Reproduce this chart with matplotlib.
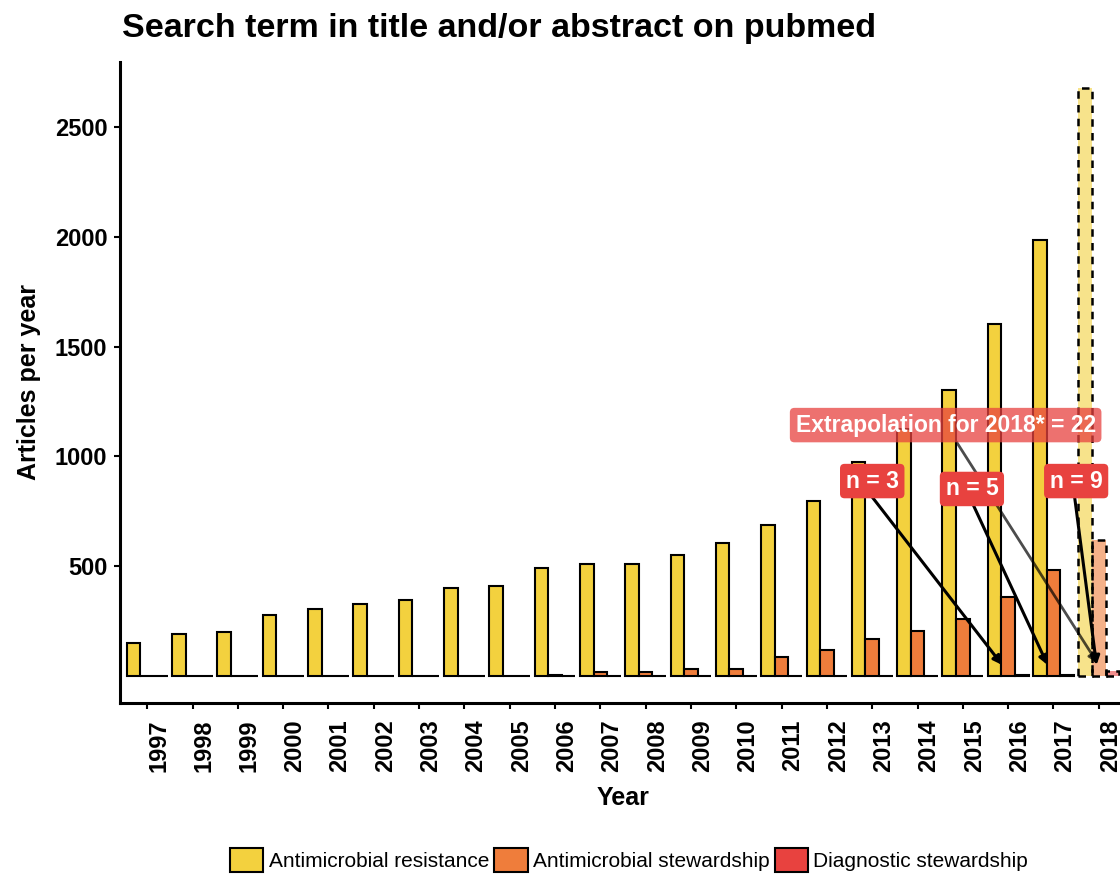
import matplotlib
matplotlib.use("Agg")
import matplotlib.pyplot as plt
from matplotlib.patches import Patch
import numpy as np

years = list(range(1997, 2019))
series_names = ["Antimicrobial resistance", "Antimicrobial stewardship", "Diagnostic stewardship"]
amr = [150, 190, 200, 280, 305, 330, 345, 400, 410, 490, 510, 512, 553, 605, 688, 797, 975, 1125, 1303, 1604, 1988]
ams = [0, 0, 0, 0, 0, 0, 0, 1, 1, 4, 20, 20, 30, 33, 85, 120, 167, 205, 258, 360, 485]
dxs = [0, 0, 0, 0, 0, 0, 0, 0, 0, 0, 0, 0, 0, 0, 0, 0, 0, 0, 0, 3, 5]
extrap_2018 = [2680, 620, 22]

colors = ["#F3D13E", "#EF7D3B", "#E8423F"]

labels_n = ["n = 3", "n = 5", "n = 9"]
label_n_years = [2016, 2017, 2018]

plt.rcParams['font.family'] = ['Liberation Sans', 'DejaVu Sans']

fig = plt.figure(figsize=(11.2, 8.76), dpi=100)
W, H = 1120, 876
ax = fig.add_axes([120 / W, (H - 703) / H, (1126 - 120) / W, (703 - 62) / H])

w = 0.3
offsets = [-w, 0, w]
x_obs = np.arange(len(amr))
for vals, off, c in zip([amr, ams, dxs], offsets, colors):
    ax.bar(x_obs + off, vals, width=w, color=c, edgecolor="black", linewidth=1.5, zorder=2)

x18 = years.index(2018)
for v, off, c in zip(extrap_2018, offsets, colors):
    ax.bar(x18 + off, v, width=w, color=c, alpha=0.6, edgecolor="none", zorder=2)
    ax.bar(x18 + off, v, width=w, fill=False, edgecolor="black", linewidth=1.8,
           linestyle=(0, (3, 2.5)), zorder=2.1)

ax.set_xlim(-0.6, len(years) - 1 + 0.6)
ax.set_ylim(-123, 2797)
ax.set_yticks([500, 1000, 1500, 2000, 2500])
ax.set_xticks(np.arange(len(years)))
ax.set_xticklabels([str(y) for y in years], rotation=90, ha="left", va="top")

for s in ["top", "right"]:
    ax.spines[s].set_visible(False)
for s in ["left", "bottom"]:
    ax.spines[s].set_linewidth(2.2)
ax.tick_params(axis="both", length=4, width=1.5, labelsize=17)
ax.tick_params(axis="y", pad=5)
ax.tick_params(axis="x", pad=8)
for lab in ax.get_xticklabels() + ax.get_yticklabels():
    lab.set_fontweight("bold")

ax.set_xlabel("Year", fontsize=18, fontweight="bold", labelpad=10)
ax.set_ylabel("Articles per year", fontsize=18, fontweight="bold", labelpad=10)

fig.text(122 / W, 1 - 28 / H, "Search term in title and/or abstract on pubmed",
         fontsize=24.5, fontweight="bold", ha="left", va="center")

# annotations
arrow_kw = dict(arrowstyle="-|>", lw=2.2, color="black", mutation_scale=13, shrinkA=0, shrinkB=0)
ann_label_xy = [(16.0, 888), (18.2, 852), (20.5, 888)]
ann_start = [(16.0, 815), (18.21, 788), (20.46, 825)]
ann_end_dx = [-0.13, -0.13, -0.05]
for txt, yr, lxy, st, dx in zip(labels_n, label_n_years, ann_label_xy, ann_start, ann_end_dx):
    ax.annotate("", xy=(years.index(yr) + dx, 50), xytext=st, arrowprops=arrow_kw, zorder=5)
    ax.text(lxy[0], lxy[1], txt, color="white", fontsize=16.5, fontweight="bold",
            ha="center", va="center", zorder=6,
            bbox=dict(boxstyle="round,pad=0.25,rounding_size=0.2", fc="#E8423F", ec="none"))

ax.annotate("", xy=(x18 - 0.03, 59), xytext=(17.86, 1066),
            arrowprops=dict(arrowstyle="-|>", lw=2.0, color="black", alpha=0.7,
                            mutation_scale=13, shrinkA=0, shrinkB=0), zorder=5)
ax.text(17.62, 1143, "Extrapolation for 2018* = " + str(extrap_2018[2]), color="white",
        fontsize=16.5, fontweight="bold", ha="center", va="center", zorder=6,
        bbox=dict(boxstyle="round,pad=0.25,rounding_size=0.2", fc="#E8423F", alpha=0.75, ec="none"))

handles = [Patch(facecolor=c, edgecolor="black", linewidth=1.5) for c in colors]
fig.legend(handles, series_names, loc="center", bbox_to_anchor=(629 / W, 1 - 860 / H),
           ncol=3, frameon=False, fontsize=15, handlelength=1.6, handleheight=1.4,
           handletextpad=0.25, columnspacing=0.25)

fig.savefig("out.png", dpi=100)
